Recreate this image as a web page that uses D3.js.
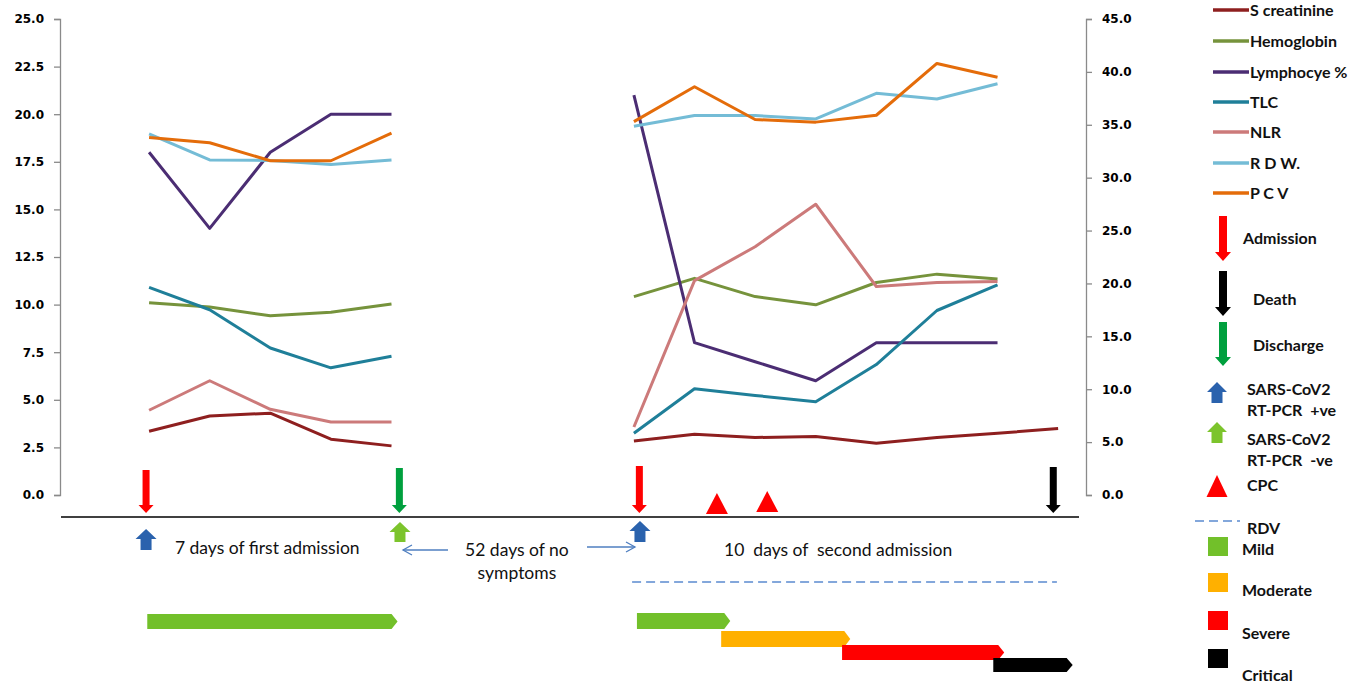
<!DOCTYPE html>
<html>
<head>
<meta charset="utf-8">
<script src="https://cdn.jsdelivr.net/npm/d3@7/dist/d3.min.js"></script>
<style>
  html, body { margin: 0; padding: 0; background: #fff; }
  svg { display: block; }
</style>
</head>
<body>
<svg id="chart" width="1362" height="684"></svg>
<script>
// ---------------- DATA ----------------
const days = d3.range(16); // observation index (0-4 first admission, 8-15 second admission)
const leftTicks = [0, 2.5, 5, 7.5, 10, 12.5, 15, 17.5, 20, 22.5, 25];
const rightTicks = [0, 5, 10, 15, 20, 25, 30, 35, 40, 45];

const sCreatinine = [3.35, 4.15, 4.3, 2.93, 2.58, null, null, null, 2.84, 3.19, 3.02, 3.07, 2.72, 3.02, 3.24, 3.49];
const hemoglobin  = [10.1, 9.87, 9.41, 9.6, 10.03, null, null, null, 10.42, 11.38, 10.42, 9.99, 11.16, 11.6, 11.35, null];
const lymphocyte  = [18, 14, 18, 20, 20, null, null, null, 21, 8, 7, 6, 8, 8, 8, null];
const tlc         = [10.9, 9.73, 7.72, 6.68, 7.29, null, null, null, 3.24, 5.58, 5.23, 4.9, 6.85, 9.69, 11.04, null];
const nlr         = [4.45, 6.0, 4.5, 3.83, 3.83, null, null, null, 3.57, 11.26, 13.04, 15.27, 10.95, 11.16, 11.21, null];
const rdw         = [18.97, 17.6, 17.57, 17.36, 17.6, null, null, null, 19.37, 19.93, 19.93, 19.75, 21.1, 20.8, 21.6, null];
const pcv         = [33.8, 33.3, 31.6, 31.6, 34.2, null, null, null, 35.3, 38.6, 35.5, 35.25, 35.9, 40.8, 39.5, null]; // right axis

const seriesNames = ["S creatinine", "Hemoglobin", "Lymphocye %", "TLC", "NLR", "R D W.", "P C V"];

// events (in observation-index units)
const admissionDays = [-0.05, 8.09];
const dischargeDays = [4.13];
const deathDays = [14.92];
const pcrPositiveDays = [-0.05, 8.1];
const pcrNegativeDays = [4.14];
const cpcDays = [9.37, 10.2];
const rdvSpan = [7.97, 14.98];
const firstPhases = [{ name: "Mild", start: -0.03, end: 4.1 }];
const secondPhases = [
  { name: "Mild", start: 8.05, end: 9.59 },
  { name: "Moderate", start: 9.44, end: 11.57 },
  { name: "Severe", start: 11.435, end: 14.11 },
  { name: "Critical", start: 13.93, end: 15.24 }
];

// ---------------- STYLE ----------------
const colors = {
  "S creatinine": "#8e1f1f",
  "Hemoglobin": "#76933c",
  "Lymphocye %": "#4b2d73",
  "TLC": "#1f7f99",
  "NLR": "#cc7a7a",
  "R D W.": "#74bcd6",
  "P C V": "#e46c0a"
};
const phaseColors = { Mild: "#72c02a", Moderate: "#ffb000", Severe: "#ff0000", Critical: "#000000" };

const svg = d3.select("#chart");
svg.append("rect").attr("width", 1362).attr("height", 684).attr("fill", "#fff");

const x = d3.scaleLinear().domain([-1.47, 15.46]).range([60, 1086]);
const yL = d3.scaleLinear().domain([0, 25]).range([495, 19]);
const yR = d3.scaleLinear().domain([0, 45]).range([495, 19]);

// axes
const axisFont = "'DejaVu Sans', Verdana, sans-serif";
const gL = svg.append("g").attr("transform", "translate(60,0)")
  .call(d3.axisLeft(yL).tickValues(leftTicks).tickFormat(d3.format(".1f")).tickSize(6).tickPadding(10));
const gR = svg.append("g").attr("transform", "translate(1086,0)")
  .call(d3.axisRight(yR).tickValues(rightTicks).tickFormat(d3.format(".1f")).tickSize(6).tickPadding(10));
[gL, gR].forEach(g => {
  g.select(".domain").attr("stroke", "#8a8a8a").attr("stroke-width", 1.3);
  g.selectAll(".tick line").attr("stroke", "#8a8a8a").attr("stroke-width", 1.3);
  g.selectAll(".tick text").attr("font-family", axisFont).attr("font-weight", "bold")
    .attr("font-size", 12).attr("fill", "#000");
});

// lines
const seriesData = [
  { name: "S creatinine", values: sCreatinine, scale: yL },
  { name: "Hemoglobin", values: hemoglobin, scale: yL },
  { name: "Lymphocye %", values: lymphocyte, scale: yL },
  { name: "TLC", values: tlc, scale: yL },
  { name: "NLR", values: nlr, scale: yL },
  { name: "R D W.", values: rdw, scale: yL },
  { name: "P C V", values: pcv, scale: yR }
];
seriesData.forEach(s => {
  const line = d3.line()
    .defined(d => d[1] != null)
    .x(d => x(d[0]))
    .y(d => s.scale(d[1]));
  svg.append("path")
    .datum(days.map((d, i) => [d, s.values[i]]))
    .attr("d", line)
    .attr("fill", "none")
    .attr("stroke", colors[s.name])
    .attr("stroke-width", 3)
    .attr("stroke-linejoin", "round");
});

// ---------------- shapes ----------------
function downArrow(cx, y0, y1, sw, hw, hh) {
  return `M${cx - sw / 2},${y0}L${cx + sw / 2},${y0}L${cx + sw / 2},${y1 - hh}L${cx + hw / 2},${y1 - hh}L${cx},${y1}L${cx - hw / 2},${y1 - hh}L${cx - sw / 2},${y1 - hh}Z`;
}
function upArrow(cx, y0, y1, sw, hw, hh) {
  return `M${cx},${y0}L${cx + hw / 2},${y0 + hh}L${cx + sw / 2},${y0 + hh}L${cx + sw / 2},${y1}L${cx - sw / 2},${y1}L${cx - sw / 2},${y0 + hh}L${cx - hw / 2},${y0 + hh}Z`;
}
function tri(cx, y0, y1, w) {
  return `M${cx},${y0}L${cx + w / 2},${y1}L${cx - w / 2},${y1}Z`;
}
function pentagon(x0, x1, y0, h, tip) {
  return `M${x0},${y0}L${x1 - tip},${y0}L${x1},${y0 + h / 2}L${x1 - tip},${y0 + h}L${x0},${y0 + h}Z`;
}

// baseline
svg.append("line").attr("x1", 61).attr("x2", 1079).attr("y1", 517).attr("y2", 517)
  .attr("stroke", "#000").attr("stroke-width", 1.6);

// event arrows
const annot = svg.append("g");
admissionDays.forEach((d, i) => annot.append("path")
  .attr("d", downArrow(x(d), i === 0 ? 470 : 466, 513, 7, 15, 8)).attr("fill", "#ff0000"));
dischargeDays.forEach(d => annot.append("path")
  .attr("d", downArrow(x(d), 468, 513, 7, 15, 8)).attr("fill", "#00a03e"));
deathDays.forEach(d => annot.append("path")
  .attr("d", downArrow(x(d), 467, 513, 7, 15, 8)).attr("fill", "#000"));
pcrPositiveDays.forEach((d, i) => annot.append("path")
  .attr("d", upArrow(x(d), i === 0 ? 529 : 521, i === 0 ? 550 : 542, 11, 21, 10)).attr("fill", "#2a62ad"));
pcrNegativeDays.forEach(d => annot.append("path")
  .attr("d", upArrow(x(d), 522, 542, 11, 21, 10)).attr("fill", "#7cc42c"));
cpcDays.forEach((d, i) => annot.append("path")
  .attr("d", tri(x(d), i === 0 ? 493 : 491, i === 0 ? 514 : 512, 22)).attr("fill", "#ff0000"));

// RDV dashed line
annot.append("line").attr("x1", x(rdvSpan[0])).attr("x2", x(rdvSpan[1])).attr("y1", 582).attr("y2", 582)
  .attr("stroke", "#5b8bd0").attr("stroke-width", 1.5).attr("stroke-dasharray", "9,5");

// phase bars
firstPhases.forEach(p => annot.append("path")
  .attr("d", pentagon(x(p.start), x(p.end), 614, 15, 6)).attr("fill", phaseColors[p.name]));
const phaseY = [613, 631, 645, 658];
const phaseH = [16, 16, 15, 14];
secondPhases.forEach((p, i) => annot.append("path")
  .attr("d", pentagon(x(p.start), x(p.end), phaseY[i], phaseH[i], 6)).attr("fill", phaseColors[p.name]));

// text annotations
const textFont = "Lato, 'Open Sans', sans-serif";
function note(t, xv, yy) {
  annot.append("text").attr("x", x(xv)).attr("y", yy).attr("text-anchor", "middle")
    .attr("font-family", textFont).attr("font-size", 17.5).attr("fill", "#111")
    .style("white-space", "pre").attr("xml:space", "preserve")
    .text(t);
}
note("7 days of first admission", 1.95, 554);
note("52 days of no", 6.07, 556);
note("symptoms", 6.07, 579);
note("10  days of  second admission", 11.37, 556);

// thin pointer arrows for "52 days"
function thinArrow(xFrom, xTo, y) {
  const dir = Math.sign(xTo - xFrom);
  annot.append("line").attr("x1", xFrom).attr("x2", xTo).attr("y1", y).attr("y2", y)
    .attr("stroke", "#4f7fc0").attr("stroke-width", 1.3);
  annot.append("path")
    .attr("d", `M${xTo - dir * 9},${y - 5}L${xTo},${y}L${xTo - dir * 9},${y + 5}`)
    .attr("fill", "none").attr("stroke", "#4f7fc0").attr("stroke-width", 1.3);
}
thinArrow(448, 403, 550);
thinArrow(587, 635, 547);

// ---------------- LEGEND ----------------
const legFont = "Lato, 'Open Sans', sans-serif";
const leg = svg.append("g");
const legY = [10, 41, 72, 102, 132, 163, 193];
function legText(t, xx, yy) {
  leg.append("text").attr("x", xx).attr("y", yy)
    .attr("font-family", legFont).attr("font-weight", "bold").attr("font-size", 16).attr("fill", "#111")
    .style("white-space", "pre").attr("xml:space", "preserve")
    .text(t);
}
seriesNames.forEach((n, i) => {
  leg.append("line").attr("x1", 1213).attr("x2", 1249).attr("y1", legY[i]).attr("y2", legY[i])
    .attr("stroke", colors[n]).attr("stroke-width", 3.5);
  legText(n, 1250, legY[i] + 6);
});
leg.append("path").attr("d", downArrow(1223, 216, 261, 8, 16, 9)).attr("fill", "#ff0000");
legText("Admission", 1243, 244);
leg.append("path").attr("d", downArrow(1223, 271, 316, 8, 16, 9)).attr("fill", "#000");
legText("Death", 1253, 305);
leg.append("path").attr("d", downArrow(1223, 322, 366, 8, 16, 9)).attr("fill", "#00a03e");
legText("Discharge", 1253, 351);
leg.append("path").attr("d", upArrow(1217, 382, 403, 11, 20, 10)).attr("fill", "#2a62ad");
legText("SARS-CoV2", 1247, 395);
legText("RT-PCR  +ve", 1247, 416);
leg.append("path").attr("d", upArrow(1217, 422, 443, 11, 20, 10)).attr("fill", "#7cc42c");
legText("SARS-CoV2", 1247, 445);
legText("RT-PCR  -ve", 1247, 466);
leg.append("path").attr("d", tri(1217, 475, 497, 21)).attr("fill", "#ff0000");
legText("CPC", 1247, 491);
leg.append("line").attr("x1", 1195).attr("x2", 1240).attr("y1", 521).attr("y2", 521)
  .attr("stroke", "#5b8bd0").attr("stroke-width", 1.5).attr("stroke-dasharray", "9,5");
legText("RDV", 1247, 534);
const sq = [["Mild", 537, 555], ["Moderate", 573, 596], ["Severe", 611, 639], ["Critical", 649, 681]];
sq.forEach(([n, y0, ty]) => {
  leg.append("rect").attr("x", 1208).attr("y", y0).attr("width", 20).attr("height", 19)
    .attr("fill", phaseColors[n]);
  legText(n, 1242, ty);
});
</script>
</body>
</html>
